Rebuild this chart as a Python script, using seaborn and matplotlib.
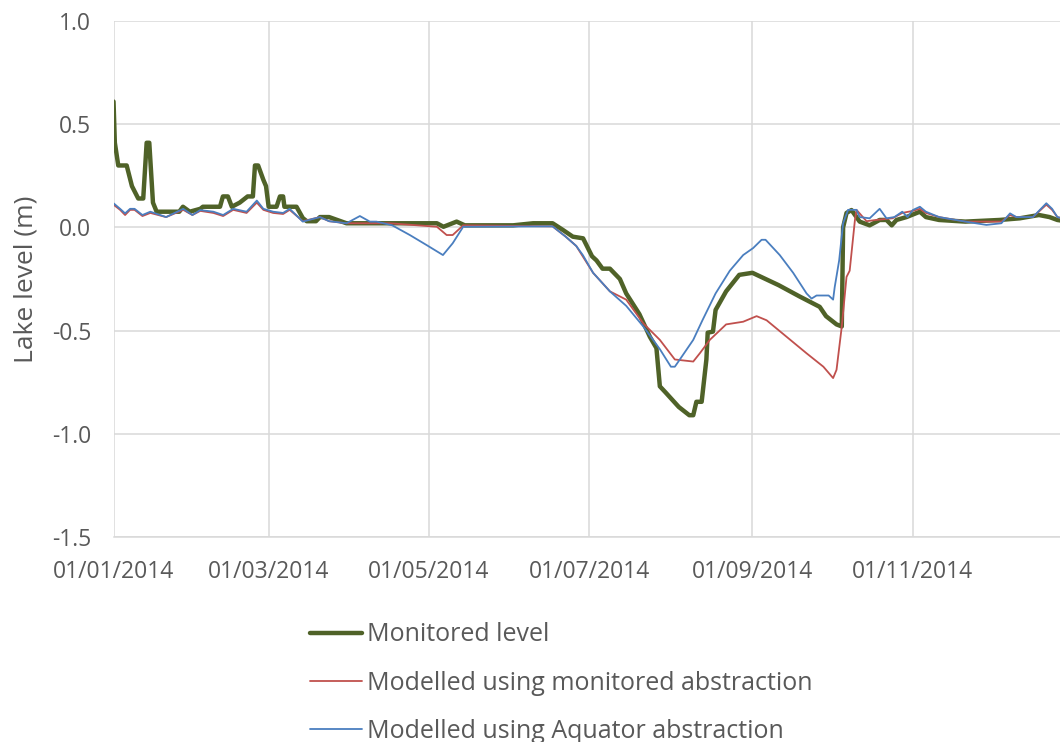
import pandas as pd
import matplotlib
matplotlib.use("Agg")
import matplotlib.pyplot as plt
import matplotlib.dates as mdates
import seaborn as sns

# values, days counted from 01/01/2014
mon_day = [0, 0.5, 1.8, 5, 7, 9.4, 11.3, 12.6, 13.6, 15, 16.4, 25, 26.4, 29, 33, 34, 40.5, 41.6,
           43.5, 45, 48, 51, 53, 53.8, 55, 57, 58, 59, 62, 63.3, 64.5, 65, 69.6, 72, 73.5, 77, 78.5,
           82, 88.6, 123, 125.5, 130.5, 133.6, 152, 159.6, 167, 171, 174.7, 178.6, 182, 183.7, 186,
           188.8, 192.6, 195, 200, 204, 206.5, 207.8, 210, 215, 219, 220.5, 221.7, 223.7, 225.5, 226,
           228, 229, 233, 238, 243, 248, 253, 261, 268.6, 271, 275, 277, 277.5, 278.8, 280.7, 283.8,
           287.6, 291.4, 294, 296, 297.8, 301.6, 306.7, 309, 314, 324, 337, 344.7, 352, 356, 359, 362]
mon_lvl = [0.61, 0.41, 0.30, 0.30, 0.20, 0.14, 0.14, 0.41, 0.41, 0.12, 0.076, 0.076, 0.10, 0.076,
           0.09, 0.10, 0.10, 0.15, 0.15, 0.10, 0.12, 0.15, 0.15, 0.30, 0.30, 0.23, 0.20, 0.10, 0.10,
           0.15, 0.15, 0.10, 0.10, 0.045, 0.03, 0.03, 0.05, 0.05, 0.02, 0.02, 0.003, 0.028, 0.01, 0.01,
           0.02, 0.02, -0.013, -0.045, -0.053, -0.14, -0.16, -0.20, -0.20, -0.25, -0.32, -0.42, -0.53,
           -0.585, -0.77, -0.80, -0.87, -0.91, -0.91, -0.845, -0.845, -0.64, -0.51, -0.505, -0.40,
           -0.31, -0.23, -0.22, -0.25, -0.28, -0.335, -0.385, -0.43, -0.47, -0.48, 0.0, 0.07, 0.084,
           0.028, 0.01, 0.036, 0.036, 0.01, 0.036, 0.05, 0.076, 0.05, 0.036, 0.028, 0.036, 0.044,
           0.06, 0.05, 0.036, 0.03]

abs_day = [0, 2.5, 4.4, 6.3, 8, 11, 14, 20, 26.5, 30, 33, 38, 41.7, 45.5, 50.6, 54.5, 57, 60.7,
           64.5, 67, 72, 78.5, 82, 88.6, 93.7, 97.5, 105, 123, 126.7, 129, 133, 167, 172, 176, 182.4,
           188.8, 195, 201.5, 207.8, 213.5, 220.5, 223, 226.8, 233, 239.5, 244.6, 248.4, 256, 263.6,
           270, 273.7, 275, 277, 278.8, 280, 282, 282.6, 286.4, 290, 296.3, 300, 304, 306.7, 309, 314,
           324, 332, 337.7, 341, 343.4, 349.7, 354.8, 357, 359, 362]
abs_lvl = [0.11, 0.085, 0.06, 0.085, 0.085, 0.055, 0.07, 0.05, 0.085, 0.06, 0.08, 0.07, 0.055,
           0.085, 0.07, 0.12, 0.085, 0.07, 0.065, 0.085, 0.03, 0.05, 0.03, 0.02, 0.02, 0.02, 0.02,
           0.003, -0.037, -0.037, 0.01, 0.005, -0.045, -0.09, -0.22, -0.31, -0.35, -0.465, -0.545,
           -0.64, -0.65, -0.61, -0.545, -0.47, -0.457, -0.43, -0.45, -0.53, -0.61, -0.675, -0.73,
           -0.69, -0.48, -0.24, -0.21, 0.036, 0.085, 0.03, 0.036, 0.044, 0.07, 0.08, 0.09, 0.07, 0.05,
           0.028, 0.028, 0.028, 0.06, 0.05, 0.05, 0.11, 0.085, 0.05, 0.04]

aq_day = [0, 2.5, 4.4, 6.3, 8, 11, 14, 20, 26.5, 30, 33, 38, 41.7, 45.5, 50.6, 54.5, 57, 60.7,
          64.5, 67, 72, 78.5, 82, 88.6, 93.7, 97.5, 100, 106, 112.7, 119, 125.3, 129, 133, 167, 172,
          176, 178.5, 182.4, 188.8, 195, 201.5, 207.8, 212, 213.5, 215.4, 220.5, 224, 229, 234.4,
          239.5, 243.3, 246.5, 248, 253.4, 258.5, 263.6, 265.5, 267.4, 272, 273.7, 274.3, 276, 277.5,
          279.4, 282.6, 283.8, 287.6, 291.4, 294, 297, 300, 302, 304, 306.7, 309, 314, 324, 332,
          337.7, 341, 343.4, 349.7, 354.8, 357, 359, 362]
aq_lvl = [0.117, 0.09, 0.068, 0.09, 0.09, 0.06, 0.076, 0.05, 0.09, 0.06, 0.084, 0.076, 0.06, 0.09,
          0.076, 0.13, 0.09, 0.076, 0.07, 0.09, 0.028, 0.05, 0.03, 0.02, 0.055, 0.028, 0.028, 0.01,
          -0.037, -0.085, -0.134, -0.077, 0.003, 0.005, -0.045, -0.09, -0.134, -0.22, -0.31, -0.38,
          -0.48, -0.59, -0.675, -0.675, -0.64, -0.545, -0.45, -0.32, -0.21, -0.134, -0.10, -0.06,
          -0.06, -0.134, -0.22, -0.32, -0.345, -0.33, -0.33, -0.35, -0.29, -0.16, 0.02, 0.085, 0.085,
          0.05, 0.044, 0.09, 0.044, 0.05, 0.076, 0.05, 0.084, 0.10, 0.076, 0.05, 0.028, 0.012, 0.02,
          0.068, 0.05, 0.05, 0.117, 0.09, 0.05, 0.04]

labels = ["Monitored level", "Modelled using monitored abstraction",
          "Modelled using Aquator abstraction"]
tick_dates = ["2014-01-01", "2014-03-01", "2014-05-01", "2014-07-01", "2014-09-01", "2014-11-01"]

start = pd.Timestamp("2014-01-01")


def to_frame(days, lvl):
    return pd.DataFrame({"date": start + pd.to_timedelta(days, unit="D"), "level": lvl})


sns.set_style("white")
plt.rcParams["font.family"] = ["Open Sans", "DejaVu Sans"]
grey_txt = "#595959"
grid_col = "#d9d9d9"

fig = plt.figure(figsize=(10.6, 7.42), dpi=100)
ax = fig.add_axes([0.1071, 0.2763, 0.8929, 0.6954])

sns.lineplot(data=to_frame(mon_day, mon_lvl), x="date", y="level", ax=ax,
             color="#4f6228", lw=3.2, label=labels[0], zorder=3)
sns.lineplot(data=to_frame(abs_day, abs_lvl), x="date", y="level", ax=ax,
             color="#c0504d", lw=1.3, label=labels[1], zorder=4)
sns.lineplot(data=to_frame(aq_day, aq_lvl), x="date", y="level", ax=ax,
             color="#4a7ebf", lw=1.3, label=labels[2], zorder=5)

ax.set_xlim(start, start + pd.Timedelta(days=360))
ax.set_ylim(-1.5, 1.0)
ax.set_yticks([-1.5, -1.0, -0.5, 0.0, 0.5, 1.0])
ax.yaxis.set_major_formatter(plt.FuncFormatter(lambda v, p: f"{v:.1f}"))
ax.set_xticks(pd.to_datetime(tick_dates))
ax.xaxis.set_major_formatter(mdates.DateFormatter("%d/%m/%Y"))

ax.grid(True, color=grid_col, lw=1.1)
for s in ["top", "right", "left"]:
    ax.spines[s].set_visible(False)
ax.spines["bottom"].set_color(grid_col)
ax.spines["bottom"].set_linewidth(1.1)
ax.tick_params(axis="x", length=4.3, color=grid_col, width=1.1, pad=12,
               labelsize=16.5, labelcolor=grey_txt)
ax.tick_params(axis="y", length=0, pad=16, labelsize=16.5, labelcolor=grey_txt)

ax.set_xlabel("")
ax.set_ylabel("Lake level (m)", fontsize=19, color=grey_txt, labelpad=10)

ax.legend(loc="upper left", bbox_to_anchor=(0.184, -0.122), frameon=False,
          fontsize=18, handlelength=2.08, handletextpad=0.2, labelspacing=0.93,
          labelcolor=grey_txt)

fig.savefig("out.png", dpi=100)
